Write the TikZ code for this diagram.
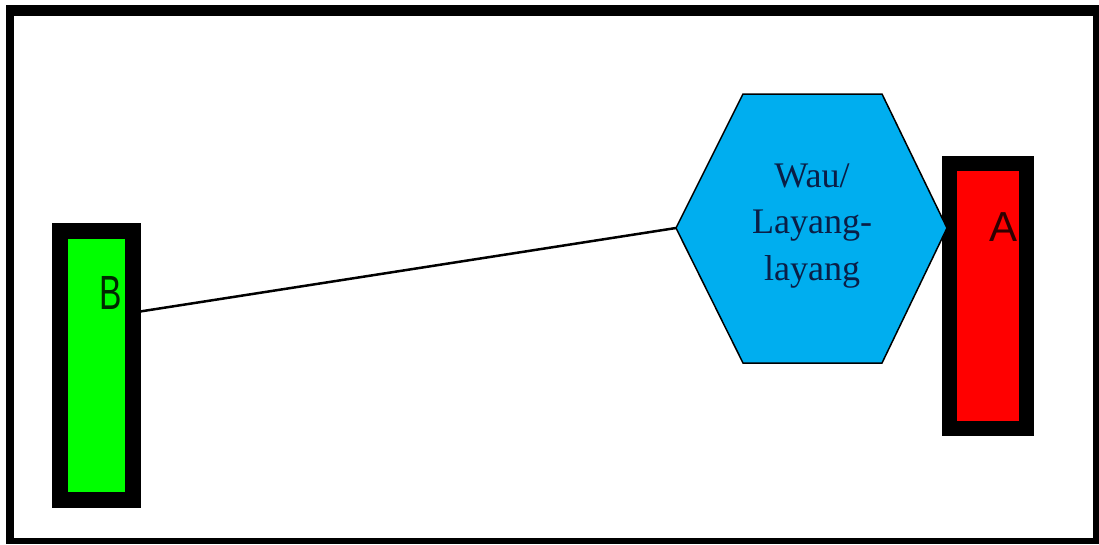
\documentclass[tikz,border=0pt]{standalone}
\usepackage{fontspec}
\setmainfont{Liberation Serif}
\newfontfamily\labelfont{Liberation Sans}
\usetikzlibrary{calc}
\definecolor{hexblue}{RGB}{0,174,239}
\definecolor{boxgreen}{RGB}{0,255,0}
\definecolor{boxred}{RGB}{255,0,0}
\definecolor{hextext}{RGB}{10,30,70}
\definecolor{btext}{RGB}{0,40,0}
\definecolor{atext}{RGB}{45,0,0}
\tikzset{
  barbox/.style={draw=black, inner sep=0pt, outer sep=auto},
  framebar/.style={fill=black, draw=none},
  conn/.style={draw=black, line width=2.5pt},
}
\begin{document}
\begin{tikzpicture}[x=1pt, y=-1pt]
\useasboundingbox (0,0) rectangle (1099,544);
\fill[white] (0,0) rectangle (1099,544);
% outer frame
\fill[framebar] (6,5) rectangle (1099,16);
\fill[framebar] (6,5) rectangle (14,544);
\fill[framebar] (1093,5) rectangle (1099,544);
\fill[framebar] (6,538) rectangle (1099,544);
% B box
\node[barbox, fill=boxgreen, line width=16pt, minimum width=73pt, minimum height=269pt] (B) at (96.5,365.5) {};
\node[text=btext, font=\labelfont\fontsize{48}{48}\selectfont, inner sep=0pt] (Blabel) at (111,293) {\scalebox{0.7}[1]{B}};
% A box
\node[barbox, fill=boxred, line width=15pt, minimum width=76.5pt, minimum height=265pt] (A) at (987.75,295.5) {};
\node[text=atext, font=\labelfont\fontsize{42}{42}\selectfont, inner sep=0pt] (Alabel) at (1003.5,227) {A};
% hexagon
\coordinate (hL) at (676,228);
\coordinate (hTL) at (743,94);
\coordinate (hTR) at (882,94);
\coordinate (hR) at (947,228);
\coordinate (hBR) at (882,363);
\coordinate (hBL) at (743,363);
\filldraw[fill=hexblue, draw=black, line width=1.5pt, line join=miter] (hL) -- (hTL) -- (hTR) -- (hR) -- (hBR) -- (hBL) -- cycle;
\node[text=hextext, align=center, font=\fontsize{36}{46.5}\selectfont, inner sep=0pt] (hex) at (812,226) {Wau/\\Layang-\\layang};
% connector
\draw[conn] ($(B.north east)!0.31!(B.south east)$) -- (hL);
\end{tikzpicture}
\end{document}
